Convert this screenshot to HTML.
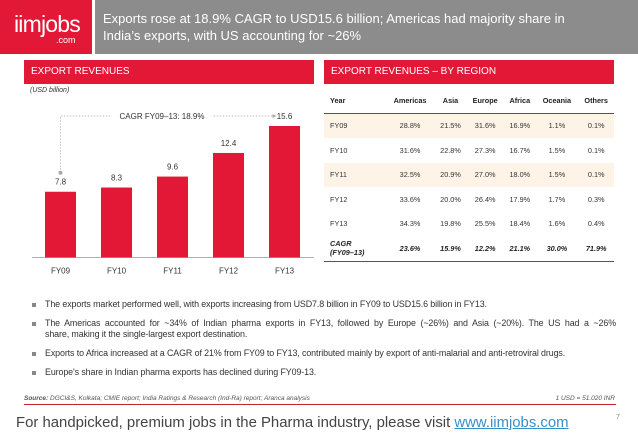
<!DOCTYPE html>
<html><head><meta charset="utf-8"><style>
body{margin:0;width:638px;height:442px;background:#fff;font-family:"Liberation Sans",sans-serif;position:relative;overflow:hidden}
.a{position:absolute}
table{border-collapse:collapse;font-size:7.3px;color:#333}
td{height:24.5px;text-align:center;padding:0}
.b{position:relative;padding-left:14px}
.b span{position:absolute;left:1px;top:4px;width:4px;height:4px;background:#888}
</style></head><body>
<div class="a" style="left:0;top:0;width:92px;height:54px;background:#e31837;color:#fff">
<div class="a" style="left:14px;top:11px;font-size:23px;letter-spacing:-0.8px">iimjobs</div>
<div class="a" style="left:56px;top:35px;font-size:9px">.com</div></div>
<div class="a" style="left:95px;top:0;width:543px;height:54px;background:#8c8c8c;color:#fff;font-size:13px;line-height:17px">
<div style="padding:10px 0 0 8px">Exports rose at 18.9% CAGR to USD15.6 billion; Americas had majority share in<br>India’s exports, with US accounting for ~26%</div></div>
<div class="a" style="left:24px;top:60px;width:290px;height:24px;background:#e31837;color:#fff;font-size:10px;line-height:24px;padding-left:7px;box-sizing:border-box">EXPORT REVENUES</div>
<div class="a" style="left:324px;top:60px;width:290px;height:24px;background:#e31837;color:#fff;font-size:10px;line-height:24px;padding-left:7px;box-sizing:border-box">EXPORT REVENUES – BY REGION</div>
<div class="a" style="left:30px;top:87px;font-size:7px;font-style:italic;color:#333">(USD billion)</div>
<svg class="a" style="left:0;top:0" width="638" height="442" id="chart"></svg>
<div class="a" style="left:324px;top:88px;width:290px">
<table style="width:290px">
<tr style="height:24px;font-weight:bold;color:#222"><td style="text-align:left;padding-left:6px">Year</td><td>Americas</td><td>Asia</td><td>Europe</td><td>Africa</td><td>Oceania</td><td>Others</td></tr>
<tr style="border-top:1px solid #c0272d;background:#fdf3e6"><td style="text-align:left;padding-left:6px">FY09</td><td>28.8%</td><td>21.5%</td><td>31.6%</td><td>16.9%</td><td>1.1%</td><td>0.1%</td></tr>
<tr><td style="text-align:left;padding-left:6px">FY10</td><td>31.6%</td><td>22.8%</td><td>27.3%</td><td>16.7%</td><td>1.5%</td><td>0.1%</td></tr>
<tr style="background:#fdf3e6"><td style="text-align:left;padding-left:6px">FY11</td><td>32.5%</td><td>20.9%</td><td>27.0%</td><td>18.0%</td><td>1.5%</td><td>0.1%</td></tr>
<tr><td style="text-align:left;padding-left:6px">FY12</td><td>33.6%</td><td>20.0%</td><td>26.4%</td><td>17.9%</td><td>1.7%</td><td>0.3%</td></tr>
<tr><td style="text-align:left;padding-left:6px">FY13</td><td>34.3%</td><td>19.8%</td><td>25.5%</td><td>18.4%</td><td>1.6%</td><td>0.4%</td></tr>
<tr style="font-weight:bold;font-style:italic;color:#222;border-bottom:1px solid #c0272d"><td style="text-align:left;padding-left:6px;line-height:9px">CAGR<br>(FY09–13)</td><td>23.6%</td><td>15.9%</td><td>12.2%</td><td>21.1%</td><td>30.0%</td><td>71.9%</td></tr>
</table></div>
<div class="a" style="left:31px;top:299px;width:585px;font-size:8.9px;color:#333;line-height:11px;letter-spacing:-0.1px">
<div class="b" style="margin-bottom:8px"><span></span>The exports market performed well, with exports increasing from USD7.8 billion in FY09 to USD15.6 billion in FY13.</div>
<div class="b" style="margin-bottom:8px"><span></span><div style="text-align:justify;text-align-last:justify">The Americas accounted for ~34% of Indian pharma exports in FY13, followed by Europe (~26%) and Asia (~20%). The US had a ~26%</div><div>share, making it the single-largest export destination.</div></div>
<div class="b" style="margin-bottom:8px"><span></span>Exports to Africa increased at a CAGR of 21% from FY09 to FY13, contributed mainly by export of anti-malarial and anti-retroviral drugs.</div>
<div class="b"><span></span>Europe's share in Indian pharma exports has declined during FY09-13.</div></div>
<div class="a" style="left:24px;top:395px;font-size:6.5px;font-style:italic;color:#555"><b>Source:</b> DGCI&amp;S, Kolkata; CMIE report; India Ratings &amp; Research (Ind-Ra) report; Aranca analysis</div>
<div class="a" style="left:520px;top:395px;width:95px;text-align:right;font-size:6.5px;font-style:italic;color:#555">1 USD = 51.020 INR</div>
<div class="a" style="left:24px;top:404px;width:592px;height:1px;background:#c0272d"></div>
<div class="a" style="left:16px;top:415px;font-size:14.9px;color:#444">For handpicked, premium jobs in the Pharma industry, please visit <a style="color:#3a8fc9;text-decoration:underline">www.iimjobs.com</a></div>
<div class="a" style="left:616px;top:414px;font-size:7px;color:#888">7</div>
<script>
const categories=["FY09","FY10","FY11","FY12","FY13"];
const values=[7.8,8.3,9.6,12.4,15.6];
const valueLabels=["7.8","8.3","9.6","12.4","15.6"];
const svg=document.getElementById('chart');const NS='http://www.w3.org/2000/svg';
const base=257.5,scale=8.43,x0=60.5,step=56,bw=31;
const xf=i=>x0+i*step, yf=v=>base-v*scale;
function mk(t,a){const e=document.createElementNS(NS,t);for(const k in a)e.setAttribute(k,a[k]);svg.appendChild(e);return e;}
const ax=mk('line',{x1:32,x2:314,y1:base,y2:base,stroke:'#999','stroke-width':0.8});


values.forEach((v,i)=>{
 const r=mk('rect',{x:xf(i)-bw/2,y:yf(v),width:bw,height:base-yf(v),fill:'#e31837'});
 
 
 const t=mk('text',{x:xf(i),y:yf(v)-7,'text-anchor':'middle','font-size':8,fill:'#333'});t.textContent=valueLabels[i];
 
 
 const c=mk('text',{x:xf(i),y:base+16,'text-anchor':'middle','font-size':8,fill:'#333'});c.textContent=categories[i];
 
 
});
const n=values.length-1;const yl=116;
const g=mk('polyline',{points:`${xf(0)},${yf(values[0])-19} ${xf(0)},${yl} ${xf(n)-12},${yl}`,fill:'none',stroke:'#aaa','stroke-width':0.7,'stroke-dasharray':'1.5,1.5'});


mk('circle',{cx:xf(0),cy:yf(values[0])-19,r:2,fill:'#aaa'});
mk('path',{d:`M${xf(n)-12},${yl-2} L${xf(n)-8},${yl} L${xf(n)-12},${yl+2}Z`,fill:'#aaa'});
const bg=mk('rect',{x:112,y:yl-6,width:100,height:12,fill:'#fff'});
const ct=mk('text',{x:162,y:yl+3,'text-anchor':'middle','font-size':8,fill:'#333'});ct.textContent='CAGR FY09–13: 18.9%';


</script>
</body></html>
